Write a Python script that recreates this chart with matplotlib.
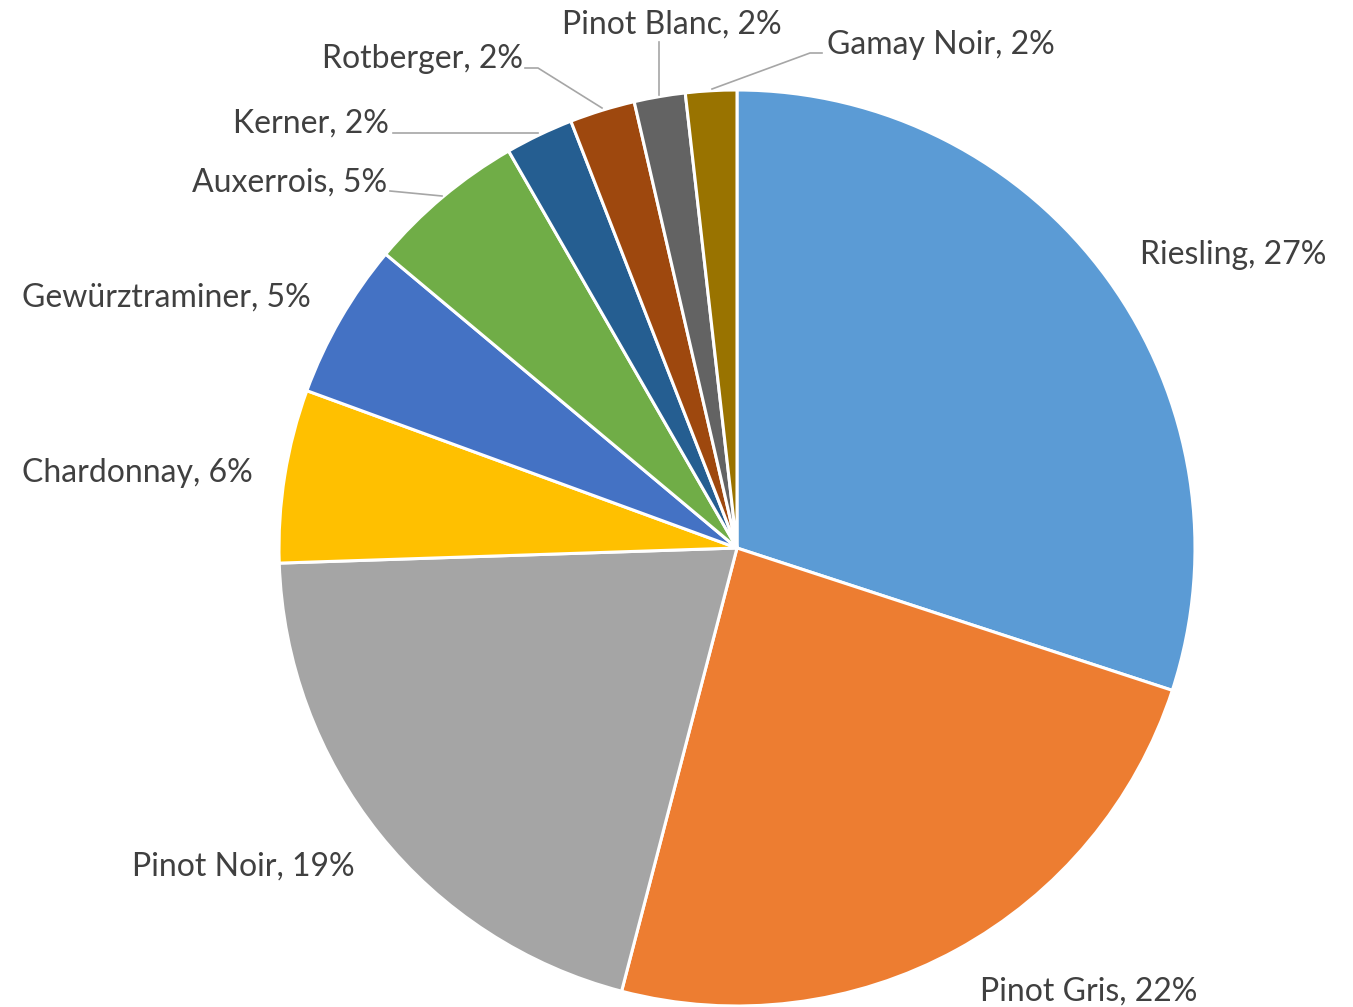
import matplotlib.pyplot as plt

W, H = 1353, 1007

varieties = ['Riesling', 'Pinot Gris', 'Pinot Noir', 'Chardonnay', 'Gewürztraminer',
             'Auxerrois', 'Kerner', 'Rotberger', 'Pinot Blanc', 'Gamay Noir']
shares = [30.0, 24.0, 20.4, 6.1, 5.5, 5.6, 2.4, 2.3, 1.8, 1.8]
pct_labels = ['27%', '22%', '19%', '6%', '5%', '5%', '2%', '2%', '2%', '2%']
colors = ['#5B9BD5', '#ED7D31', '#A5A5A5', '#FFC000', '#4472C4',
          '#70AD47', '#255E91', '#9E480E', '#636363', '#997300']

# label baseline positions (image pixels, y from top)
label_pos = [(1140, 264), (980, 1001), (132, 876), (22, 482), (22, 307),
             (192, 192), (233, 133), (322, 68), (562, 34), (827, 54)]
# leader lines (image pixels)
leaders = {
    'Auxerrois': [(390, 191), (442, 196)],
    'Kerner': [(393, 133), (538, 133)],
    'Rotberger': [(525, 68), (538, 68), (602, 108)],
    'Pinot Blanc': [(659, 42), (659, 95)],
    'Gamay Noir': [(822, 53), (810, 53), (712, 89)],
}

fig = plt.figure(figsize=(W / 100, H / 100), dpi=100)
ax = fig.add_axes([0, 0, 1, 1])

ax.pie(shares, colors=colors, startangle=90, counterclock=False,
       center=(737, H - 548), radius=458,
       wedgeprops={'edgecolor': 'white', 'linewidth': 2.2})
ax.set_xlim(0, W)
ax.set_ylim(0, H)
ax.set_aspect('equal')
ax.axis('off')

for name, pct, (x, y) in zip(varieties, pct_labels, label_pos):
    ax.text(x, H - y, f'{name}, {pct}', ha='left', va='baseline',
            fontsize=23, color='#404040', family=['Lato', 'DejaVu Sans'])

for name, pts in leaders.items():
    xs = [p[0] for p in pts]
    ys = [H - p[1] for p in pts]
    ax.plot(xs, ys, color='#A6A6A6', linewidth=1.2)

fig.savefig('out.png', dpi=100)
